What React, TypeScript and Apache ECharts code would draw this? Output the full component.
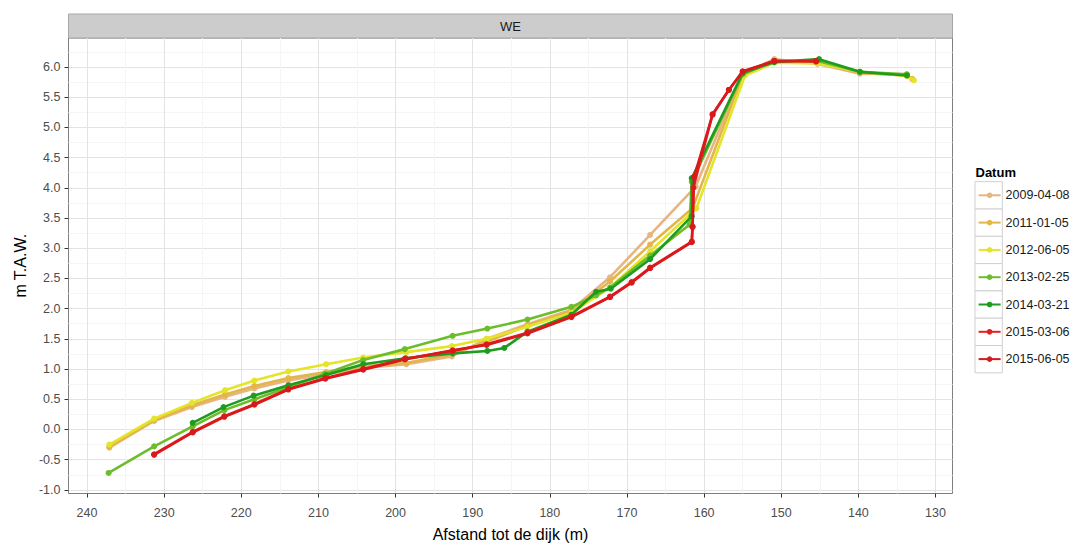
import React, { useEffect, useRef } from "react";
import * as echarts from "echarts";

// Afstand tot de dijk (m), hoogte (m T.A.W.)
const p20090408: [number, number][] = [
  [237.1, -0.3], [231.3, 0.14], [226.4, 0.37], [222.1, 0.54], [218.3, 0.68], [213.9, 0.81],
  [209.0, 0.92], [204.2, 1.02], [198.6, 1.08], [192.7, 1.21], [188.2, 1.5], [182.9, 1.74],
  [177.2, 1.98], [172.2, 2.52], [167.0, 3.22], [161.1, 4.02], [155.0, 5.88], [150.9, 6.13],
  [145.3, 6.05], [139.8, 5.89], [133.8, 5.88], [133.0, 5.8],
];
const p20110105: [number, number][] = [
  [237.1, -0.29], [231.3, 0.15], [226.4, 0.4], [222.1, 0.58], [218.3, 0.72], [213.9, 0.85],
  [209.0, 0.95], [204.2, 1.05], [198.6, 1.1], [192.7, 1.25], [188.2, 1.45], [182.9, 1.72],
  [177.2, 1.96], [172.2, 2.45], [167.0, 3.06], [161.5, 3.66], [155.0, 5.86], [150.9, 6.1],
  [145.3, 6.07], [139.8, 5.9], [133.8, 5.86], [133.0, 5.8],
];
const p20120605: [number, number][] = [
  [237.1, -0.25], [231.3, 0.18], [226.4, 0.44], [222.1, 0.65], [218.3, 0.81], [213.9, 0.96],
  [209.0, 1.08], [204.2, 1.19], [198.6, 1.28], [192.7, 1.38], [188.2, 1.5], [182.9, 1.7],
  [177.2, 1.93], [172.2, 2.35], [167.0, 2.95], [161.0, 3.66], [154.7, 5.86], [150.9, 6.07],
  [145.3, 6.06], [139.8, 5.92], [133.7, 5.85], [132.8, 5.78],
];
const p20130225: [number, number][] = [
  [237.2, -0.72], [231.3, -0.28], [226.3, 0.05], [222.2, 0.32], [218.3, 0.5], [213.9, 0.7],
  [209.2, 0.92], [204.2, 1.15], [198.8, 1.33], [192.6, 1.55], [188.1, 1.67], [182.9, 1.82],
  [177.2, 2.03], [174.0, 2.22], [172.2, 2.35], [167.0, 2.88], [161.9, 3.39], [161.6, 4.1],
  [155.0, 5.88], [150.9, 6.1], [145.3, 6.1], [139.8, 5.92], [133.7, 5.88],
];
const p20140321: [number, number][] = [
  [226.3, 0.11], [222.3, 0.37], [218.4, 0.56], [213.9, 0.73], [209.0, 0.9], [204.2, 1.08],
  [198.7, 1.18], [192.6, 1.26], [188.1, 1.3], [185.9, 1.35], [182.9, 1.62], [177.2, 1.9],
  [174.0, 2.28], [172.1, 2.33], [167.0, 2.82], [161.6, 3.53], [161.6, 4.16], [155.0, 5.9],
  [150.9, 6.08], [145.1, 6.13], [139.8, 5.92], [133.7, 5.86],
];
const p20150306: [number, number][] = [
  [231.3, -0.41], [226.3, -0.04], [222.2, 0.22], [218.3, 0.42], [213.9, 0.67], [209.1, 0.85],
  [204.2, 1.0], [198.8, 1.17], [192.6, 1.3], [188.2, 1.41], [182.9, 1.6], [177.2, 1.87],
  [172.2, 2.2], [169.4, 2.44], [167.0, 2.68], [161.6, 3.11], [161.5, 3.35], [161.4, 4.0],
  [158.9, 5.22], [156.8, 5.62], [155.0, 5.92], [150.9, 6.1], [145.5, 6.1],
];
const p20150605: [number, number][] = [
  [231.3, -0.42], [226.3, -0.05], [222.2, 0.21], [218.3, 0.41], [213.9, 0.66], [209.1, 0.84],
  [204.2, 0.99], [198.8, 1.16], [192.6, 1.31], [188.2, 1.4], [182.9, 1.59], [177.2, 1.86],
  [172.2, 2.19], [169.4, 2.43], [167.0, 2.67], [161.6, 3.1], [161.5, 3.36], [161.3, 4.18],
  [158.9, 5.21], [156.8, 5.62], [155.0, 5.93], [150.9, 6.1], [145.5, 6.09],
];

const datums = ["2009-04-08", "2011-01-05", "2012-06-05", "2013-02-25", "2014-03-21", "2015-03-06", "2015-06-05"];
const profiles = [p20090408, p20110105, p20120605, p20130225, p20140321, p20150306, p20150605];
const colors = ["#E8B480", "#E3B64A", "#E4E428", "#6CBD2A", "#1E9C1E", "#E81E1C", "#D81A1C"];

const xTicks = [130, 140, 150, 160, 170, 180, 190, 200, 210, 220, 230, 240];
const yTicks = [-1, -0.5, 0, 0.5, 1, 1.5, 2, 2.5, 3, 3.5, 4, 4.5, 5, 5.5, 6];

const X_MIN = 127.8;
const X_MAX = 242.4;
const Y_MIN = -1.06;
const Y_MAX = 6.48;

const FONT = "'Liberation Sans', Arial, sans-serif";

export default function App() {
  const ref = useRef<HTMLDivElement>(null);
  useEffect(() => {
    if (!ref.current) return;
    const chart = echarts.init(ref.current, undefined, { renderer: "svg" });
    const gl = 68.5, gr = 952.5, gt = 38, gb = 498.7;
    const boxTop = 181.7, boxH = 27.3, boxL = 975, boxW = 27.3;
    const graphics: any[] = [
      {
        type: "rect",
        shape: { x: gl, y: 14, width: gr - gl, height: gt - 14 },
        style: { fill: "#CCCCCC", stroke: "#A6A6A6", lineWidth: 1 },
        silent: true,
      },
      {
        type: "text",
        x: (gl + gr) / 2,
        y: 26.5,
        style: { text: "WE", fill: "#1A1A1A", font: `13px ${FONT}`, textAlign: "center", textVerticalAlign: "middle" },
        silent: true,
      },
      {
        type: "text",
        x: 975.5,
        y: 172,
        style: { text: "Datum", fill: "#000", font: `bold 13px ${FONT}`, textAlign: "left", textVerticalAlign: "middle" },
        silent: true,
      },
    ];
    datums.forEach((_, i) => {
      graphics.push({
        type: "rect",
        z: -1,
        shape: { x: boxL, y: boxTop + i * boxH, width: boxW, height: boxH },
        style: { fill: "#FFFFFF", stroke: "#D0D0D0", lineWidth: 1 },
        silent: true,
      });
    });

    chart.setOption({
      animation: false,
      backgroundColor: "#FFFFFF",
      textStyle: { fontFamily: FONT },
      grid: {
        left: gl,
        right: 1088 - gr,
        top: gt,
        bottom: 547 - gb,
        show: true,
        borderColor: "#7F7F7F",
        borderWidth: 1,
        backgroundColor: "#FFFFFF",
        containLabel: false,
      },
      xAxis: {
        type: "value",
        min: X_MIN,
        max: X_MAX,
        inverse: true,
        minInterval: 10,
        maxInterval: 10,
        name: "Afstand tot de dijk (m)",
        nameLocation: "middle",
        nameGap: 32.5,
        nameTextStyle: { fontSize: 16, color: "#000", fontFamily: FONT },
        axisLine: { show: false, onZero: false },
        axisTick: { show: true, length: 4, lineStyle: { color: "#333" }, customValues: xTicks },
        axisLabel: {
          customValues: xTicks,
          color: "#4D4D4D",
          fontSize: 12.5,
          margin: 13,
          fontFamily: FONT,
        },
        splitLine: { show: true, lineStyle: { color: "#E3E3E3", width: 1 } },
        minorTick: { show: false, splitNumber: 2 },
        minorSplitLine: { show: true, lineStyle: { color: "#F5F5F5", width: 1 } },
      },
      yAxis: {
        type: "value",
        min: Y_MIN,
        max: Y_MAX,
        minInterval: 0.5,
        maxInterval: 0.5,
        name: "m T.A.W.",
        nameLocation: "middle",
        nameGap: 35,
        nameTextStyle: { fontSize: 16, color: "#000", fontFamily: FONT },
        axisLine: { show: false, onZero: false },
        axisTick: { show: true, length: 4, lineStyle: { color: "#333" }, customValues: yTicks },
        axisLabel: {
          customValues: yTicks,
          color: "#4D4D4D",
          fontSize: 12.5,
          margin: 8,
          fontFamily: FONT,
          formatter: (v: number) => v.toFixed(1),
        },
        splitLine: { show: true, lineStyle: { color: "#E3E3E3", width: 1 } },
        minorTick: { show: false, splitNumber: 2 },
        minorSplitLine: { show: true, lineStyle: { color: "#F5F5F5", width: 1 } },
      },
      legend: {
        orient: "vertical",
        left: 977.6,
        top: 188.3,
        itemWidth: 22,
        itemHeight: 7,
        itemGap: boxH - 14,
        padding: 0,
        textStyle: { fontSize: 12.5, lineHeight: 14, color: "#1A1A1A", fontFamily: FONT },
        data: datums,
      },
      graphic: graphics,
      series: datums.map((d, i) => ({
        name: d,
        type: "line",
        data: profiles[i],
        symbol: "circle",
        symbolSize: 6,
        showSymbol: true,
        lineStyle: { color: colors[i], width: 2.6 },
        itemStyle: { color: colors[i] },
        z: 2 + i,
      })),
    });
    return () => chart.dispose();
  }, []);
  return <div ref={ref} style={{ position: "fixed", left: 0, top: 0, width: 1088, height: 547 }} />;
}
